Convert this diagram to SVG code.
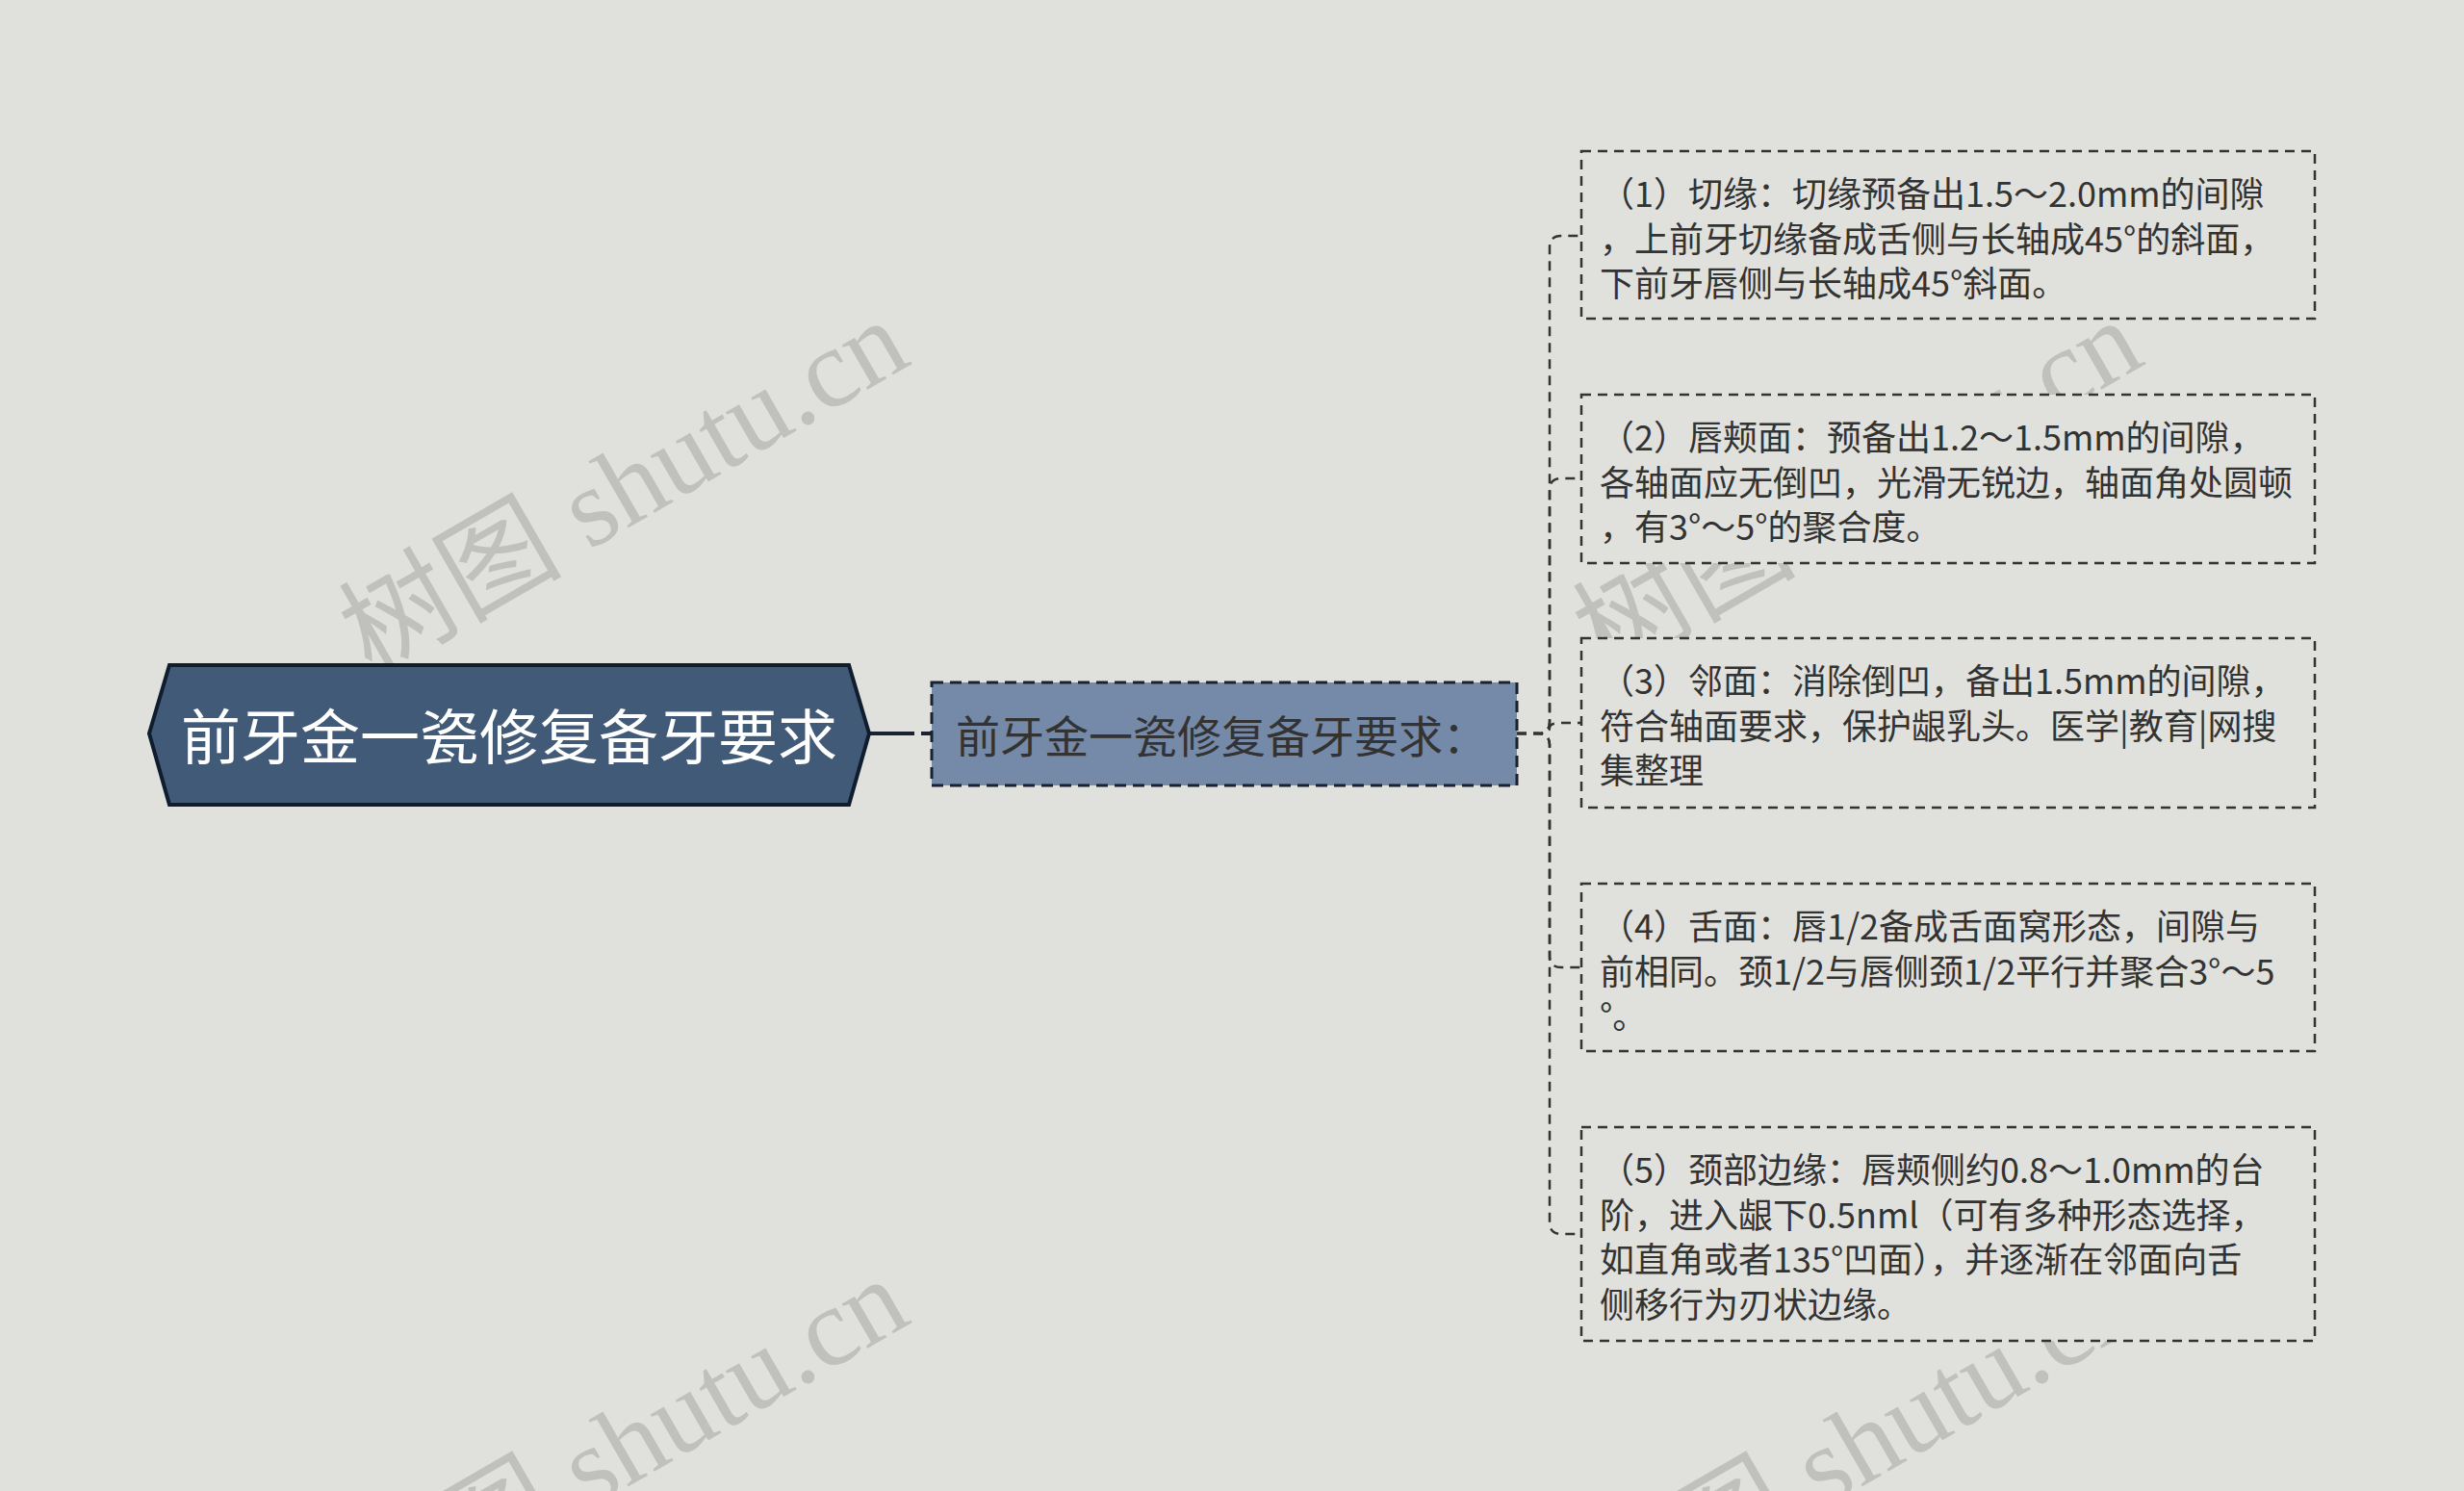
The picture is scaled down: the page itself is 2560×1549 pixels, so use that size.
<svg xmlns="http://www.w3.org/2000/svg" width="2560" height="1549" viewBox="0 0 2560 1549">
<style>
.wm{font-family:"Liberation Serif","Noto Sans CJK SC",serif;font-size:116px;fill:#c0c1bc}
.leaf rect{fill:#e0e1dc;stroke:#333;stroke-width:2.5;stroke-dasharray:10 7}
.leaf text{font-family:"Noto Sans CJK SC",sans-serif;font-size:36px;fill:#333;dominant-baseline:central}
.conn path{fill:none;stroke:#333;stroke-width:2.5;stroke-dasharray:10 7}
</style>
<rect width="2560" height="1549" fill="#e0e1dc"/>
<g id="watermarks">
<text class="wm" transform="translate(648,506) rotate(-30)" text-anchor="middle" dominant-baseline="central">树图 shutu.cn</text>
<text class="wm" transform="translate(1930,506) rotate(-30)" text-anchor="middle" dominant-baseline="central">树图 shutu.cn</text>
<text class="wm" transform="translate(648,1502) rotate(-30)" text-anchor="middle" dominant-baseline="central">树图 shutu.cn</text>
<text class="wm" transform="translate(1930,1502) rotate(-30)" text-anchor="middle" dominant-baseline="central">树图 shutu.cn</text>
</g>
<g id="connectors" class="conn">
<path d="M903,762 H950" style="stroke-dasharray:none;stroke-width:4;stroke:#1a2230"/>
<path d="M957,762 H968" style="stroke-dasharray:none;stroke-width:4;stroke:#1a2230"/>
<path d="M1576,762 H1598 Q1610,762 1610,750 V257 Q1610,245 1622,245 H1643"/>
<path d="M1576,762 H1598 Q1610,762 1610,750 V509 Q1610,497 1622,497 H1643"/>
<path d="M1576,762 H1598 Q1610,762 1610,756 Q1610,751 1622,751 H1643"/>
<path d="M1576,762 H1598 Q1610,762 1610,774 V993 Q1610,1005 1622,1005 H1643"/>
<path d="M1576,762 H1598 Q1610,762 1610,774 V1270 Q1610,1282 1622,1282 H1643"/>
</g>
<g id="root">
<polygon points="155,762 176,691 882,691 903,762 882,836 176,836" fill="#415a78" stroke="#0f1d2e" stroke-width="4"/>
<text x="529" y="762" text-anchor="middle" dominant-baseline="central" font-family="Noto Sans CJK SC, sans-serif" font-size="62" fill="#ffffff">前牙金一瓷修复备牙要求</text>
</g>
<g id="sub">
<rect x="968" y="709" width="608" height="107" fill="#7589a8" stroke="#1a2230" stroke-width="3" stroke-dasharray="12 7"/>
<text x="993" y="762" dominant-baseline="central" font-family="Noto Sans CJK SC, sans-serif" font-size="46" fill="#333">前牙金一瓷修复备牙要求：</text>
</g>
<g id="leaf1" class="leaf">
<rect x="1643" y="157" width="762" height="174"/>
<text x="1662" y="199">（1）切缘：切缘预备出1.5～2.0mm的间隙</text>
<text x="1662" y="246">，上前牙切缘备成舌侧与长轴成45°的斜面，</text>
<text x="1662" y="292">下前牙唇侧与长轴成45°斜面。</text>
</g>
<g id="leaf2" class="leaf">
<rect x="1643" y="410" width="762" height="175"/>
<text x="1662" y="452">（2）唇颊面：预备出1.2～1.5mm的间隙，</text>
<text x="1662" y="499">各轴面应无倒凹，光滑无锐边，轴面角处圆顿</text>
<text x="1662" y="545">，有3°～5°的聚合度。</text>
</g>
<g id="leaf3" class="leaf">
<rect x="1643" y="663" width="762" height="176"/>
<text x="1662" y="705">（3）邻面：消除倒凹，备出1.5mm的间隙，</text>
<text x="1662" y="752">符合轴面要求，保护龈乳头。医学|教育|网搜</text>
<text x="1662" y="798">集整理</text>
</g>
<g id="leaf4" class="leaf">
<rect x="1643" y="918" width="762" height="174"/>
<text x="1662" y="960">（4）舌面：唇1/2备成舌面窝形态，间隙与</text>
<text x="1662" y="1007">前相同。颈1/2与唇侧颈1/2平行并聚合3°～5</text>
<text x="1662" y="1053">°。</text>
</g>
<g id="leaf5" class="leaf">
<rect x="1643" y="1171" width="762" height="222"/>
<text x="1662" y="1213">（5）颈部边缘：唇颊侧约0.8～1.0mm的台</text>
<text x="1662" y="1260">阶，进入龈下0.5nml（可有多种形态选择，</text>
<text x="1662" y="1306">如直角或者135°凹面），并逐渐在邻面向舌</text>
<text x="1662" y="1353">侧移行为刃状边缘。</text>
</g>
</svg>
